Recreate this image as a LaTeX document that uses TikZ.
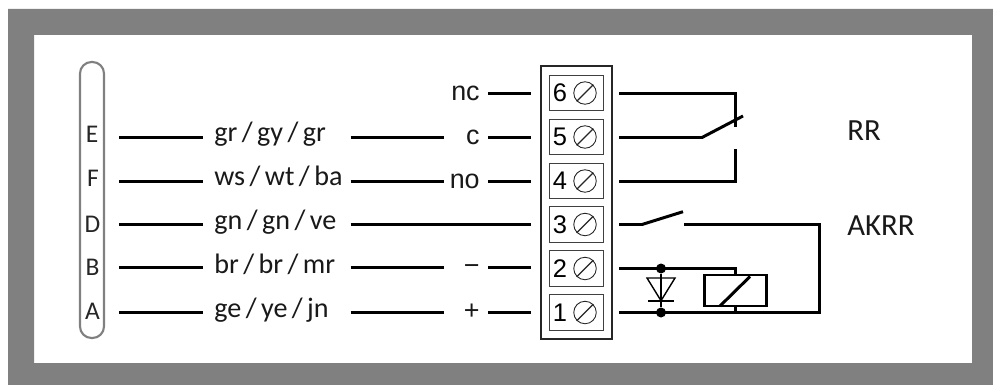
\documentclass[tikz,border=0pt]{standalone}
\usepackage{fontspec}
\setmainfont[WordSpace=0.7]{Carlito}
\newfontfamily\termfont{Liberation Sans}
\usetikzlibrary{positioning}
\definecolor{framegray}{RGB}{128,128,128}

\tikzset{
	wire/.style={line width=1.7pt,line cap=butt},
	label/.style={inner sep=0pt,anchor=base west,font=\fontsize{16pt}{20pt}\selectfont,text=black!90},
	namelabel/.style={inner sep=0pt,anchor=base west,font=\fontsize{17.5pt}{20pt}\selectfont,text=black!90},
	contactlabel/.style={inner sep=0pt,anchor=base east,font=\termfont\fontsize{15.3pt}{18pt}\selectfont,text=black!90},
	pinlabel/.style={inner sep=0pt,font=\fontsize{14.5pt}{16pt}\selectfont,text=black!85},
	termbox/.style={draw=black!75,line width=0.6pt,minimum width=1.07cm,minimum height=0.71cm,inner sep=0pt},
	screw/.style={draw=black!85,circle,line width=0.5pt,minimum size=0.45cm,inner sep=0pt},
	dot/.style={circle,fill=black,minimum size=0.2cm,inner sep=0pt}
}

\begin{document}
\begin{tikzpicture}[x=0.02cm,y=-0.02cm]

		% Page and frame
		\useasboundingbox (0,0) rectangle (993,385);
		\fill[white] (0,0) rectangle (993,385);
		\fill[framegray,even odd rule] (8,9) rectangle (993,385) (34,35) rectangle (972,363);

		% Connector strip
		\draw[framegray,line width=1.2pt,rounded corners=0.23cm] (80,62) rectangle (104,338);
		\node[pinlabel] (pinE) at (92,134) {E};
		\node[pinlabel] (pinF) at (93,178) {F};
		\node[pinlabel] (pinD) at (92.5,224) {D};
		\node[pinlabel] (pinB) at (92.5,267) {B};
		\node[pinlabel] (pinA) at (92.5,311) {A};

		% Colour labels
		\node[label] (colE) at (214,141.5) {gr / gy / gr};
		\node[label] (colF) at (214,185) {ws / wt / ba};
		\node[label] (colD) at (214,229) {gn / gn / ve};
		\node[label] (colB) at (214,273) {br / br / mr};
		\node[label] (colA) at (214,317) {ge / ye / jn};

		% Contact labels
		\node[contactlabel] (lblnc) at (480,100.5) {nc};
		\node[contactlabel] (lblc) at (480,144) {c};
		\node[contactlabel] (lblno) at (480,188) {no};
		\node[contactlabel] (lblminus) at (480,274) {−};
		\node[contactlabel] (lblplus) at (480,319) {+};

		% Terminal block
		\draw[black!85,line width=0.8pt] (541,66) rectangle (612,339);
		\foreach \n/\y in {6/93,5/137,4/181,3/224.5,2/268.5,1/312.5} {
			\node[termbox] (term\n) at (576.7,\y) {};
			\node[screw] (screw\n) at (585,\y) {};
			\draw[black!85,line width=0.7pt] (screw\n.225) -- (screw\n.45);
			\node[inner sep=0pt,font=\termfont\fontsize{14.5pt}{17pt}\selectfont] at (560,\y) {\n};
		}

		% Wires to the strip
		\foreach \p/\y in {E/137.5,F/181.5,D/224.5,B/267.5,A/312.5} {
			\draw[wire] (119,\y) -- (203,\y);
		}
		\foreach \y in {137.5,181.5,267.5,312.5} {
			\draw[wire] (350.5,\y) -- (444,\y);
			\draw[wire] (488,\y) -- (531,\y);
		}
		\draw[wire] (488,93.5) -- (531,93.5);
		\draw[wire] (350.5,224.5) -- (531,224.5);

		% Relay contact RR
		\draw[wire] (619,93.5) -- (735,93.5) -- (735,127);
		\draw[wire] (619,137.5) -- (702,137.5) -- (743,116);
		\draw[wire] (619,181.5) -- (735,181.5) -- (735,149);

		% Contact AKRR
		\draw[wire] (619,224.5) -- (642,224.5) -- (683,211.7);
		\draw[wire] (684,224.5) -- (819,224.5) -- (819,312.5) -- (619,312.5);

		% Coil and diode
		\draw[wire] (619,268.5) -- (735,268.5) -- (735,275);
		\draw[wire] (735,306) -- (735,312.5);
		\draw[wire] (704,275) rectangle (766,306);
		\draw[wire] (720,306) -- (750,276.5);
		\node[dot] (dotB) at (661,268.5) {};
		\node[dot] (dotA) at (661,312.5) {};
		\draw[line width=1pt] (dotB) -- (dotA);
		\draw[line width=0.8pt] (647,278) -- (675,278) -- (661,300.7) -- cycle;
		\draw[line width=1pt] (648,300.7) -- (674,300.7);

		% Names
		\node[namelabel] (nameRR) at (847,140.7) {RR};
		\node[namelabel] (nameAKRR) at (847,235) {AKRR};

	\end{tikzpicture}
\end{document}
